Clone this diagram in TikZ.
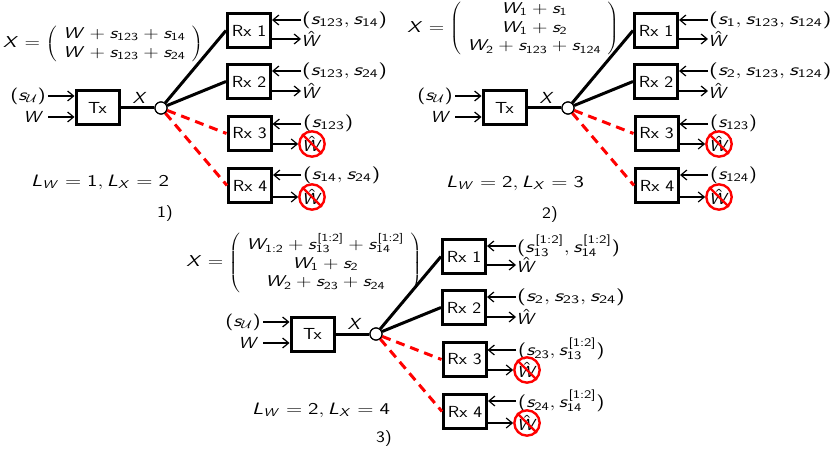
\documentclass[tikz,border=0pt]{standalone}
\usepackage{fix-cm}
\usepackage{graphicx}
\usetikzlibrary{arrows.meta}
\renewcommand{\familydefault}{\sfdefault}
% Slanted sans letters and upright sans digits in formulas
\DeclareSymbolFont{ssl}{OT1}{cmss}{m}{sl}
\DeclareSymbolFont{operators}{OT1}{cmss}{m}{n}
\DeclareMathSymbol{W}{\mathalpha}{ssl}{`W}
\DeclareMathSymbol{X}{\mathalpha}{ssl}{`X}
\DeclareMathSymbol{L}{\mathalpha}{ssl}{`L}
\DeclareMathSymbol{s}{\mathalpha}{ssl}{`s}
\DeclareMathSizes{16}{16}{11}{8}
\newcommand{\rxfont}{\fontsize{16}{19}\selectfont}
% Horizontally widened lettering
\newcommand{\widea}[1]{\scalebox{1.33}[1.03]{#1}}
\newcommand{\widem}[1]{\scalebox{1.27}[0.98]{#1}}
\newcommand{\wideb}[1]{\scalebox{1.18}[1]{#1}}
\newcommand{\sized}[2]{\scalebox{#1}[1.05]{#2}}
\tikzset{
  x=1pt, y=-1pt,
  box/.style={draw=black, line width=3pt, fill=white, minimum width=43pt, minimum height=34pt, inner sep=0pt, font=\rxfont},
  hub/.style={circle, draw=black, line width=1.2pt, fill=white, minimum size=12pt, inner sep=0pt},
  link/.style={line width=3pt, black},
  lost/.style={line width=3pt, red, dash pattern=on 9pt off 6pt},
  feed/.style={line width=1.2pt, -{Straight Barb[length=6pt,width=10pt,line width=1.2pt]}},
  txt/.style={inner sep=0pt, font=\rxfont},
  nogo/.style={circle, draw=red, line width=2.4pt, minimum size=22.5pt, inner sep=0pt, font=\rxfont},
}
% One transmitter, a broadcast hub and four receivers; Rx 3 and Rx 4 cannot decode.
% #1 prefix, #2 x shift, #3 y shift, #4-#7 side information of Rx 1 to Rx 4
\newcommand{\rxpanel}[7]{
  \begin{scope}[shift={(#2,#3)}]
    \node[box] (#1tx) at (97.5,108) {\wideb{Tx}};
    \node[hub] (#1hub) at (161,108) {};
    \node[box] (#1rx1) at (249,30.5) {\wideb{Rx 1}};
    \node[box] (#1rx2) at (249,81.5) {\wideb{Rx 2}};
    \node[box] (#1rx3) at (249.5,133.5) {\wideb{Rx 3}};
    \node[box] (#1rx4) at (250,185.5) {\wideb{Rx 4}};
    \draw[link] (#1tx) -- (#1hub);
    \draw[link] (#1hub) -- (#1rx1.west);
    \draw[link] (#1hub) -- (#1rx2.west);
    \draw[lost] (#1hub) -- (#1rx3.west);
    \draw[lost] (#1hub) -- (#1rx4.west);
    \node[hub] at (#1hub) {};
    \node[txt, anchor=east] (#1su) at (46,96) {\widea{$(s_{\mathcal{U}})$}};
    \node[txt, anchor=east] (#1w) at (44,117) {\wideb{$W$}};
    \draw[feed] (#1su.east) ++(2,0) coordinate (#1sua) -- (#1sua -| #1tx.west);
    \draw[feed] (#1w.east) ++(4,0) coordinate (#1wa) -- (#1wa -| #1tx.west);
    \node[txt] (#1x) at (140,98) {\wideb{$X$}};
    \node[txt, anchor=west] (#1s1) at (302,20) {#4};
    \node[txt, anchor=west] (#1s2) at (302,71) {#5};
    \node[txt, anchor=west] (#1s3) at (303,123) {#6};
    \node[txt, anchor=west] (#1s4) at (303,175) {#7};
    \node[txt, anchor=west] (#1o1) at (301,39) {\wideb{$\hat{W}$}};
    \node[txt, anchor=west] (#1o2) at (301,91) {\wideb{$\hat{W}$}};
    \node[nogo] (#1o3) at (312,144) {\wideb{$\hat{W}$}};
    \node[nogo] (#1o4) at (312,197) {\wideb{$\hat{W}$}};
    \draw[red, line width=2.4pt] (#1o3.north west) -- (#1o3.south east);
    \draw[red, line width=2.4pt] (#1o4.north west) -- (#1o4.south east);
    \draw[feed] (#1s1.west) ++(-1,0) coordinate (#1a) -- (#1a -| #1rx1.east);
    \draw[feed] (#1s2.west) ++(-1,0) coordinate (#1b) -- (#1b -| #1rx2.east);
    \draw[feed] (#1s3.west) ++(-2,1) coordinate (#1c) -- (#1c -| #1rx3.east);
    \draw[feed] (#1s4.west) ++(-2,0) coordinate (#1d) -- (#1d -| #1rx4.east);
    \draw[feed] (#1rx1.east |- #1o1.west) -- (#1o1.west);
    \draw[feed] (#1rx2.east |- #1o2.west) -- (#1o2.west);
    \draw[feed] (#1rx3.east |- #1o3.west) -- (#1o3.west);
    \draw[feed] (#1rx4.east |- #1o4.west) -- (#1o4.west);
  \end{scope}
}
\begin{document}
\begin{tikzpicture}
  \useasboundingbox (0,0) rectangle (830,449);

  % Scheme with L_W = 1
  \rxpanel{a}{0}{0}{\sized{1.42}{$(s_{123},s_{14})$}}{\sized{1.42}{$(s_{123},s_{24})$}}{\sized{1.42}{$(s_{123})$}}{\sized{1.42}{$(s_{14},s_{24})$}}
  \node[txt] (am) at (103,44) {\widem{$X=\left(\begin{array}{c}W+s_{123}+s_{14}\\ W+s_{123}+s_{24}\end{array}\right)$}};
  \node[txt] (al) at (100,182) {\widea{$L_W=1,L_X=2$}};
  \node[txt] (ac) at (165,214) {\wideb{1)}};

  % Scheme with L_W = 2, L_X = 3
  \rxpanel{b}{407}{0}{\sized{1.45}{$(s_1,s_{123},s_{124})$}}{\sized{1.45}{$(s_2,s_{123},s_{124})$}}{\sized{1.33}{$(s_{123})$}}{\sized{1.33}{$(s_{124})$}}
  \node[txt] (bm) at (513,28.5) {\widem{$X=\left(\begin{array}{c}W_1+s_1\\ W_1+s_2\\ W_2+s_{123}+s_{124}\end{array}\right)$}};
  \node[txt] (bl) at (515,183) {\widea{$L_W=2,L_X=3$}};
  \node[txt] (bc) at (550,215) {\wideb{2)}};

  % Scheme with L_W = 2, L_X = 4
  \rxpanel{c}{215}{226}{\sized{1.36}{$(s_{13}^{[1:2]},s_{14}^{[1:2]})$}}{\sized{1.47}{$(s_2,s_{23},s_{24})$}}{\sized{1.33}{$(s_{23},s_{13}^{[1:2]})$}}{\sized{1.33}{$(s_{24},s_{14}^{[1:2]})$}}
  \node[txt] (cm) at (304,263) {\widem{$X=\left(\begin{array}{c}W_{1:2}+s_{13}^{[1:2]}+s_{14}^{[1:2]}\\ W_1+s_2\\ W_2+s_{23}+s_{24}\end{array}\right)$}};
  \node[txt] (cl) at (321,410) {\widea{$L_W=2,L_X=4$}};
  \node[txt] (cc) at (384,439) {\wideb{3)}};
\end{tikzpicture}
\end{document}
